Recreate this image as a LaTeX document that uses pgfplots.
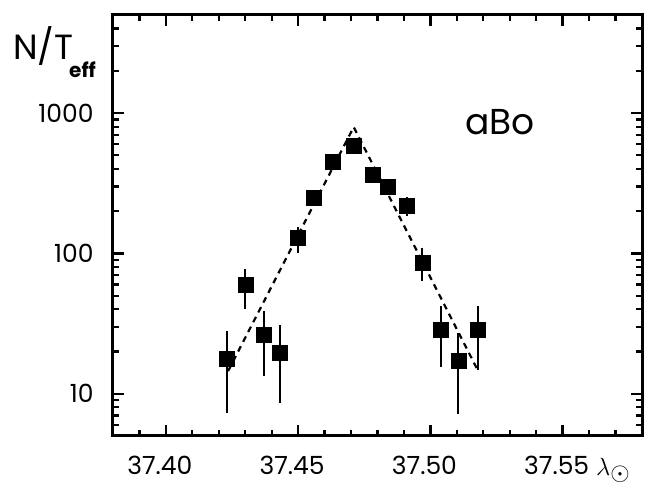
\documentclass[border=0pt]{standalone}
\usepackage{fontspec}
\setmainfont{Poppins}
\usepackage{pgfplots}
\pgfplotsset{compat=1.18}
\pgfplotstableread{
x y ep em
37.423 17.7 10.3 10.4
37.430 59.7 17.9 19.4
37.437 26.3 12.7 12.9
37.443 19.6 11.4 11.0
37.450 129 26 28
37.456 248 20 20
37.463 448 30 30
37.471 582 45 45
37.478 362 25 25
37.484 297 25 25
37.491 218 34 33
37.497 85.6 23.4 21.9
37.504 28.5 13.8 12.9
37.5106 17.2 10.0 10.0
37.518 28.5 13.8 13.7
}\datatab
\begin{document}
\begin{tikzpicture}
\path[use as bounding box] (0pt,0pt) rectangle (649pt,483pt);
\begin{axis}[
  at={(113pt,47pt)}, anchor=south west,
  scale only axis, width=529pt, height=421pt,
  xmin=37.38, xmax=37.58, ymode=log, ymin=5, ymax=5000,
  xtick={37.40,37.45,37.50,37.55},
  xticklabels={37.40,37.45,37.50,37.55},
  minor xtick={37.39,37.41,37.42,37.43,37.44,37.46,37.47,37.48,37.49,37.51,37.52,37.53,37.54,37.56,37.57},
  ytick={10,100,1000}, yticklabels={10,100,1000},
  minor ytick={5,6,7,8,9,20,30,40,50,60,70,80,90,200,300,400,500,600,700,800,900,2000,3000,4000,5000},
  tick align=inside,
  xtick pos=both, ytick pos=both,
  line width=3pt,
  major tick style={line width=2.5pt, draw=black},
  minor tick style={line width=2.2pt, draw=black},
  major tick length=11pt, minor tick length=6pt,
  tick label style={font=\fontsize{25}{30}\selectfont, inner sep=0pt},
  xticklabel style={yshift=-19pt, xshift=-6pt},
  yticklabel style={xshift=-18pt},
  clip=false,
  majt/.style={black, line width=2.5pt, forget plot, mark=none},
  mint/.style={black, line width=2.2pt, forget plot, mark=none},
]
\addplot[majt] coordinates {(37.40,5) (37.40,5.99)};
\addplot[majt] coordinates {(37.45,5) (37.45,5.99)};
\addplot[majt] coordinates {(37.50,5) (37.50,5.99)};
\addplot[majt] coordinates {(37.55,5) (37.55,5.99)};
\addplot[majt] coordinates {(37.40,5000) (37.40,4173)};
\addplot[majt] coordinates {(37.45,5000) (37.45,4173)};
\addplot[majt] coordinates {(37.50,5000) (37.50,4173)};
\addplot[majt] coordinates {(37.55,5000) (37.55,4173)};
\addplot[mint] coordinates {(37.39,5) (37.39,5.51)};
\addplot[mint] coordinates {(37.41,5) (37.41,5.51)};
\addplot[mint] coordinates {(37.42,5) (37.42,5.51)};
\addplot[mint] coordinates {(37.43,5) (37.43,5.51)};
\addplot[mint] coordinates {(37.44,5) (37.44,5.51)};
\addplot[mint] coordinates {(37.46,5) (37.46,5.51)};
\addplot[mint] coordinates {(37.47,5) (37.47,5.51)};
\addplot[mint] coordinates {(37.48,5) (37.48,5.51)};
\addplot[mint] coordinates {(37.49,5) (37.49,5.51)};
\addplot[mint] coordinates {(37.51,5) (37.51,5.51)};
\addplot[mint] coordinates {(37.52,5) (37.52,5.51)};
\addplot[mint] coordinates {(37.53,5) (37.53,5.51)};
\addplot[mint] coordinates {(37.54,5) (37.54,5.51)};
\addplot[mint] coordinates {(37.56,5) (37.56,5.51)};
\addplot[mint] coordinates {(37.57,5) (37.57,5.51)};
\addplot[mint] coordinates {(37.39,5000) (37.39,4532)};
\addplot[mint] coordinates {(37.41,5000) (37.41,4532)};
\addplot[mint] coordinates {(37.42,5000) (37.42,4532)};
\addplot[mint] coordinates {(37.43,5000) (37.43,4532)};
\addplot[mint] coordinates {(37.44,5000) (37.44,4532)};
\addplot[mint] coordinates {(37.46,5000) (37.46,4532)};
\addplot[mint] coordinates {(37.47,5000) (37.47,4532)};
\addplot[mint] coordinates {(37.48,5000) (37.48,4532)};
\addplot[mint] coordinates {(37.49,5000) (37.49,4532)};
\addplot[mint] coordinates {(37.51,5000) (37.51,4532)};
\addplot[mint] coordinates {(37.52,5000) (37.52,4532)};
\addplot[mint] coordinates {(37.53,5000) (37.53,4532)};
\addplot[mint] coordinates {(37.54,5000) (37.54,4532)};
\addplot[mint] coordinates {(37.56,5000) (37.56,4532)};
\addplot[mint] coordinates {(37.57,5000) (37.57,4532)};
\addplot[black, line width=2.2pt, dash pattern=on 6pt off 5pt] coordinates {(37.4235,14.5) (37.471,795) (37.518,14.6)};
\addplot[only marks, mark=square*, mark size=7.5pt, black, line width=0.4pt,
  error bars/.cd, y dir=both, y explicit, error mark=none,
  error bar style={line width=2pt}]
  table[x=x, y=y, y error plus=ep, y error minus=em]{\datatab};
\end{axis}
\node[anchor=base west, font=\fontsize{35}{40}\selectfont, inner sep=0pt] at (13pt,423pt) {N/T};
\node[anchor=base west, font=\fontsize{20}{24}\selectfont\bfseries, inner sep=0pt] at (69pt,405pt) {eff};
\node[anchor=base west, font=\fontsize{36}{40}\selectfont, inner sep=0pt] at (465pt,348pt) {aBo};
\node[anchor=base west, font=\fontsize{34}{36}\selectfont, inner sep=0pt] at (596pt,8pt) {$\lambda_\odot$};
\end{tikzpicture}
\end{document}
